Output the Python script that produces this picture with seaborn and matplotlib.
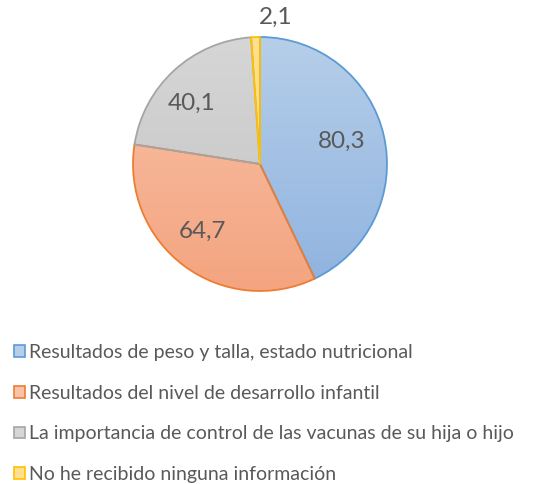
import numpy as np
import seaborn as sns
import matplotlib
import matplotlib.pyplot as plt
from matplotlib.colors import LinearSegmentedColormap
from matplotlib.patches import Patch

matplotlib.use('Agg')

categories = ['Resultados de peso y talla, estado nutricional',
              'Resultados del nivel de desarrollo infantil',
              'La importancia de control de las vacunas de su hija o hijo',
              'No he recibido ninguna información']
values = [80.3, 64.7, 40.1, 2.1]
value_labels = ['80,3', '64,7', '40,1', '2,1']

edge_colors = ['#5b9bd5', '#ed7d31', '#a5a5a5', '#ffc000']
top_colors = ['#b6cee9', '#f8c3aa', '#d6d6d6', '#ffe08f']
bottom_colors = ['#8fb3df', '#f4a47f', '#c3c3c3', '#ffd36a']

sns.set_theme(style='white')
plt.rcParams['font.family'] = ['Lato', 'DejaVu Sans']

fig = plt.figure(figsize=(5.33, 4.84), dpi=100)
cx, cy, r = 260, 164, 127
ax = fig.add_axes([(cx - r) / 533, (484 - cy - r) / 484, 2 * r / 533, 2 * r / 484])

wedges, _ = ax.pie(values, startangle=90, counterclock=False,
                   wedgeprops=dict(linewidth=1.3))

grad = np.linspace(0, 1, 256).reshape(-1, 1)
for w, ec, tc, bc in zip(wedges, edge_colors, top_colors, bottom_colors):
    w.set_facecolor('none')
    w.set_edgecolor(ec)
    w.set_zorder(3)
    cmap = LinearSegmentedColormap.from_list('g', [tc, bc])
    im = ax.imshow(grad, extent=[-1, 1, -1, 1], cmap=cmap, aspect='auto',
                   origin='upper', zorder=2)
    im.set_clip_path(w)

# data labels placed at each wedge's mid-angle
dists = [0.67, 0.70, 0.72, 1.16]
shifts = [3, -4, 6, -8]
for w, lab, d, s in zip(wedges, value_labels, dists, shifts):
    ang = np.deg2rad((w.theta1 + w.theta2) / 2 + s)
    ax.text(d * np.cos(ang), d * np.sin(ang), lab, ha='center', va='center',
            fontsize=17.5, color='#595959', zorder=4)

ax.set_xlim(-1, 1)
ax.set_ylim(-1, 1)
ax.axis('off')

handles = [Patch(facecolor=tc, edgecolor=ec, linewidth=1.2)
           for tc, ec in zip(top_colors, edge_colors)]
fig.legend(handles, categories, loc='upper left',
           bbox_to_anchor=(14 / 533, 1 - 344 / 484), frameon=False,
           fontsize=14, labelcolor='#595959', handlelength=0.55,
           handleheight=0.55, handletextpad=0.2, labelspacing=1.22,
           borderpad=0, borderaxespad=0)

plt.savefig('out.png', dpi=100)
plt.close()
